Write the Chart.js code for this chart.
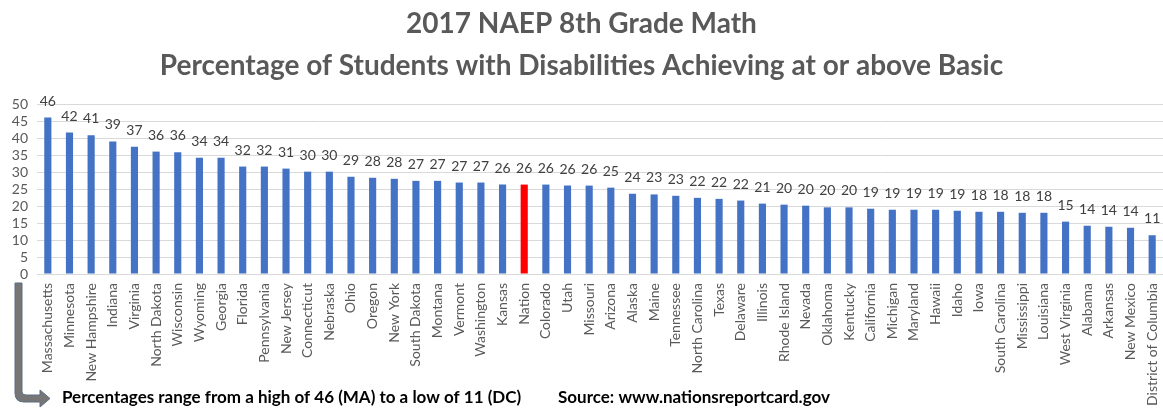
<!DOCTYPE html>
<html>
<head>
<meta charset="utf-8">
<title>2017 NAEP 8th Grade Math</title>
<script src="https://cdn.jsdelivr.net/npm/chart.js@4.4.1/dist/chart.umd.min.js"></script>
<style>
  html, body { margin: 0; padding: 0; background: #ffffff; }
  #wrap { width: 1163px; height: 412px; }
</style>
</head>
<body>
<div id="wrap"><canvas id="chart"></canvas></div>
<script>
// Data
const states = [
  'Massachusetts', 'Minnesota', 'New Hampshire', 'Indiana', 'Virginia', 'North Dakota',
  'Wisconsin', 'Wyoming', 'Georgia', 'Florida', 'Pennsylvania', 'New Jersey',
  'Connecticut', 'Nebraska', 'Ohio', 'Oregon', 'New York', 'South Dakota',
  'Montana', 'Vermont', 'Washington', 'Kansas', 'Nation', 'Colorado',
  'Utah', 'Missouri', 'Arizona', 'Alaska', 'Maine', 'Tennessee',
  'North Carolina', 'Texas', 'Delaware', 'Illinois', 'Rhode Island', 'Nevada',
  'Oklahoma', 'Kentucky', 'California', 'Michigan', 'Maryland', 'Hawaii',
  'Idaho', 'Iowa', 'South Carolina', 'Mississippi', 'Louisiana', 'West Virginia',
  'Alabama', 'Arkansas', 'New Mexico', 'District of Columbia'
];

const percentBasic = [
  46.0, 41.6, 40.8, 39.0, 37.4, 36.0,
  35.8, 34.2, 34.2, 31.6, 31.6, 31.0,
  30.1, 30.1, 28.6, 28.3, 28.0, 27.4,
  27.4, 26.9, 26.9, 26.3, 26.3, 26.3,
  26.0, 26.0, 25.4, 23.6, 23.4, 23.0,
  22.4, 22.1, 21.6, 20.7, 20.4, 20.1,
  19.6, 19.6, 19.2, 18.9, 18.9, 18.9,
  18.6, 18.3, 18.3, 18.0, 18.0, 15.4,
  14.2, 13.9, 13.6, 11.4
];

const yTicks = [0, 5, 10, 15, 20, 25, 30, 35, 40, 45, 50];

const titleLines = [
  '2017 NAEP 8th Grade Math',
  'Percentage of Students with Disabilities Achieving at or above Basic'
];
const noteText = 'Percentages range from a high of 46 (MA) to a low of 11 (DC)';
const sourceText = 'Source: www.nationsreportcard.gov';

// Nation in red, the rest blue
const barColors = states.map(s => s === 'Nation' ? '#ff0000' : '#4472c4');

// Plugin for the value labels above the bars
const valueLabels = {
  id: 'valueLabels',
  afterDatasetsDraw(chart) {
    const ctx = chart.ctx;
    const meta = chart.getDatasetMeta(0);
    ctx.save();
    ctx.font = '14px Lato';
    ctx.fillStyle = '#404040';
    ctx.textAlign = 'center';
    ctx.textBaseline = 'alphabetic';
    meta.data.forEach((bar, i) => {
      ctx.fillText(String(Math.round(percentBasic[i])), bar.x, bar.y - 12);
    });
    ctx.restore();
  }
};

// Plugin for the footnote line and the bent arrow
const footNote = {
  id: 'footNote',
  afterDraw(chart) {
    const ctx = chart.ctx;
    ctx.save();
    // bent arrow
    ctx.beginPath();
    ctx.moveTo(15, 283);
    ctx.lineTo(22, 283);
    ctx.lineTo(22, 392);
    ctx.quadraticCurveTo(22, 395, 26, 395);
    ctx.lineTo(40, 395);
    ctx.lineTo(40, 390);
    ctx.lineTo(50, 398.5);
    ctx.lineTo(40, 407);
    ctx.lineTo(40, 402);
    ctx.lineTo(24, 402);
    ctx.quadraticCurveTo(15, 402, 15, 393);
    ctx.closePath();
    ctx.fillStyle = '#767676';
    ctx.fill();
    ctx.strokeStyle = '#5a6e86';
    ctx.lineWidth = 1;
    ctx.stroke();

    ctx.font = 'bold 17px Lato';
    ctx.fillStyle = '#000000';
    ctx.textAlign = 'left';
    ctx.textBaseline = 'alphabetic';
    ctx.fillText(noteText, 62, 403);
    ctx.fillText(sourceText, 558, 403);
    ctx.restore();
  }
};

const ctx = document.getElementById('chart').getContext('2d');

const naepChart = new Chart(ctx, {
  type: 'bar',
  data: {
    labels: states,
    datasets: [{
      label: 'Percent at or above Basic',
      data: percentBasic,
      backgroundColor: barColors,
      borderWidth: 0,
      categoryPercentage: 1.0,
      barPercentage: 0.33
    }]
  },
  options: {
    responsive: true,
    maintainAspectRatio: false,
    animation: false,
    layout: { padding: { left: 0, right: 0, top: 0, bottom: 0 } },
    plugins: {
      legend: { display: false },
      tooltip: { enabled: false },
      title: {
        display: true,
        text: titleLines,
        color: '#595959',
        font: { family: 'Lato', size: 28, weight: 'bold', lineHeight: 1.5 },
        padding: { top: 3, bottom: 17 }
      }
    },
    scales: {
      x: {
        grid: { display: false, drawTicks: false },
        border: { display: true, color: '#d9d9d9', width: 1 },
        ticks: {
          autoSkip: false,
          minRotation: 90,
          maxRotation: 90,
          padding: 9,
          color: '#595959',
          font: { family: 'Lato', size: 14 }
        },
        afterFit(scale) {
          scale.height = 138;
          scale.paddingLeft = 0;
          scale.paddingRight = 0;
        }
      },
      y: {
        min: yTicks[0],
        max: yTicks[yTicks.length - 1],
        grid: { color: '#d9d9d9', lineWidth: 1, drawTicks: false },
        border: { display: false },
        ticks: {
          stepSize: yTicks[1] - yTicks[0],
          autoSkip: false,
          padding: 9,
          color: '#595959',
          font: { family: 'Lato', size: 14 }
        },
        afterFit(scale) {
          scale.width = 37;
        }
      }
    }
  },
  plugins: [valueLabels, footNote]
});
</script>
</body>
</html>
